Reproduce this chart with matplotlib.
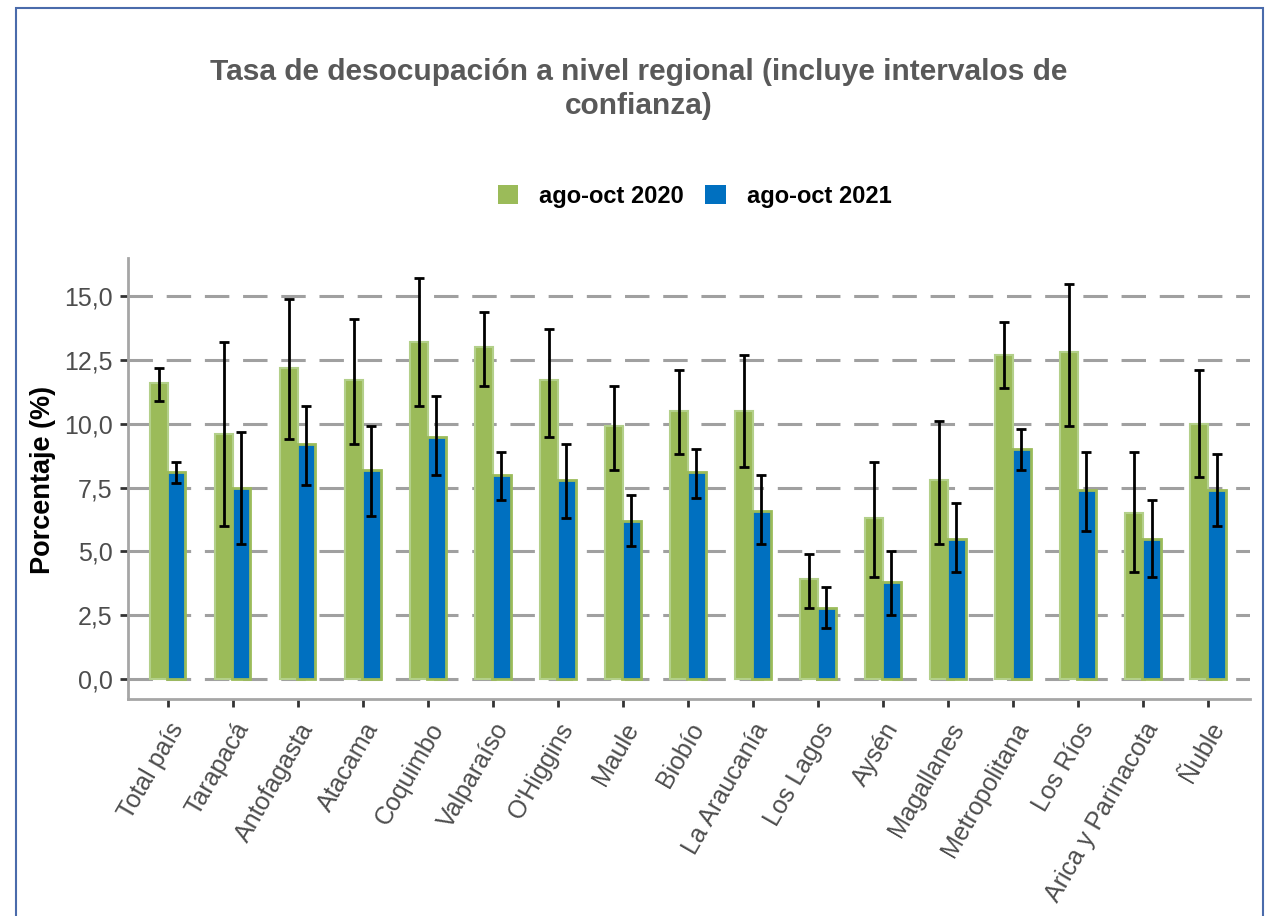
import matplotlib
matplotlib.use('Agg')
import matplotlib.pyplot as plt
import numpy as np
from matplotlib.patches import Rectangle, Patch

# regions and rates (%)
regiones = ['Total país', 'Tarapacá', 'Antofagasta', 'Atacama', 'Coquimbo', 'Valparaíso',
            "O'Higgins", 'Maule', 'Biobío', 'La Araucanía', 'Los Lagos', 'Aysén',
            'Magallanes', 'Metropolitana', 'Los Ríos', 'Arica y Parinacota', 'Ñuble']
tasa_2020 = [11.6, 9.6, 12.2, 11.7, 13.2, 13.0, 11.7, 9.9, 10.5, 10.5, 3.9, 6.3, 7.8, 12.7, 12.8, 6.5, 10.0]
inf_2020 = [10.9, 6.0, 9.4, 9.2, 10.7, 11.5, 9.5, 8.2, 8.8, 8.3, 2.8, 4.0, 5.3, 11.4, 9.9, 4.2, 7.9]
sup_2020 = [12.2, 13.2, 14.9, 14.1, 15.7, 14.4, 13.7, 11.5, 12.1, 12.7, 4.9, 8.5, 10.1, 14.0, 15.5, 8.9, 12.1]
tasa_2021 = [8.1, 7.5, 9.2, 8.2, 9.5, 8.0, 7.8, 6.2, 8.1, 6.6, 2.8, 3.8, 5.5, 9.0, 7.4, 5.5, 7.4]
inf_2021 = [7.7, 5.3, 7.6, 6.4, 8.0, 7.0, 6.3, 5.2, 7.1, 5.3, 2.0, 2.5, 4.2, 8.2, 5.8, 4.0, 6.0]
sup_2021 = [8.5, 9.7, 10.7, 9.9, 11.1, 8.9, 9.2, 7.2, 9.0, 8.0, 3.6, 5.0, 6.9, 9.8, 8.9, 7.0, 8.8]
series = ['ago-oct 2020', 'ago-oct 2021']
y_ticks = [0, 2.5, 5, 7.5, 10, 12.5, 15]

verde = '#9BBB59'
azul = '#0070C0'

plt.rcParams['font.family'] = ['Liberation Sans', 'DejaVu Sans']

fig = plt.figure(figsize=(12.68, 9.16), dpi=100)
ax = fig.add_axes([0.1009, 0.2369, 0.8849, 0.4814])

x = np.arange(len(regiones))
w = 0.28
off = 0.135
t20 = np.array(tasa_2020)
t21 = np.array(tasa_2021)
err20 = [t20 - np.array(inf_2020), np.array(sup_2020) - t20]
err21 = [t21 - np.array(inf_2021), np.array(sup_2021) - t21]

ax.bar(x - off, t20, w, color=verde, edgecolor='#B3D08A', linewidth=1.5, zorder=2)
ax.bar(x + off, t21, w, color=azul, edgecolor=verde, linewidth=2, zorder=2)
ax.errorbar(x - off, t20, yerr=err20, fmt='none', ecolor='black', elinewidth=2,
            capsize=3.3, capthick=2, zorder=3)
ax.errorbar(x + off, t21, yerr=err21, fmt='none', ecolor='black', elinewidth=2,
            capsize=3.3, capthick=2, zorder=3)

ax.set_xlim(-0.61, 16.65)
ax.set_ylim(-0.785, 16.5)
ax.set_yticks(y_ticks)
ax.set_yticklabels([f'{v:.1f}'.replace('.', ',') for v in y_ticks], fontsize=18, color='#4D4D4D')
ax.set_xticks(x)
ax.set_xticklabels(regiones, rotation=60, ha='right', va='top', rotation_mode='anchor',
                   fontsize=18, color='#4D4D4D')
ax.tick_params(axis='both', length=6, width=2, color='#333333', pad=5)
ax.tick_params(axis='x', pad=8)
ax.grid(axis='y', color='#A0A0A0', linewidth=2.2, linestyle=(0, (8, 4.5)), zorder=1)
ax.set_axisbelow(True)
for s in ['top', 'right']:
    ax.spines[s].set_visible(False)
for s in ['left', 'bottom']:
    ax.spines[s].set_color('#A6A6A6')
    ax.spines[s].set_linewidth(2)

fig.text(0.034, 0.476, 'Porcentaje (%)', rotation=90, ha='center', va='center',
         fontsize=19.5, fontweight='bold', color='black')

fig.text(0.504, 0.937, 'Tasa de desocupación a nivel regional (incluye intervalos de\nconfianza)',
         ha='center', va='top', fontsize=21.5, fontweight='bold', color='#595959',
         linespacing=1.3)

handles = [Patch(facecolor=verde, edgecolor='none'), Patch(facecolor=azul, edgecolor='none')]
fig.legend(handles, series, loc='center', bbox_to_anchor=(0.548, 0.786), ncol=2, frameon=False,
           prop={'weight': 'bold', 'size': 17}, handlelength=0.85, handleheight=0.85,
           handletextpad=0.9, columnspacing=0.9)

fig.patches.append(Rectangle((16 / 1268, -0.1), 1247 / 1268, 1.1 - 8 / 916, transform=fig.transFigure,
                             fill=False, edgecolor='#4A6BAB', linewidth=1.5))

plt.savefig('out.png', dpi=100)
plt.close()
